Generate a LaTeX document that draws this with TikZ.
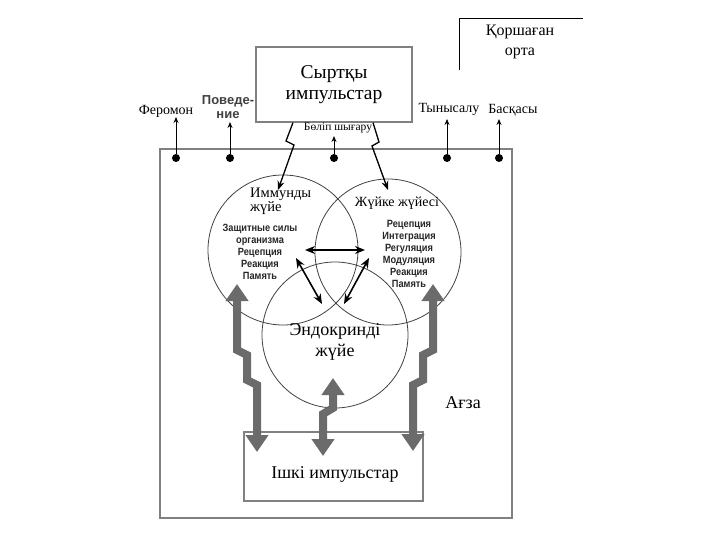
\documentclass[tikz,border=0pt]{standalone}
\usepackage{fontspec}
\setmainfont{Liberation Serif}
\newfontfamily\labsans{Liberation Sans}
\newfontfamily\listsans[FakeStretch=0.88]{Liberation Sans}
\usetikzlibrary{arrows.meta}
\begin{document}
\begin{tikzpicture}[x=1pt,y=-1pt,
  serif/.style={inner sep=0pt, align=center, text=black},
  big/.style={serif, font=\fontsize{18}{21}\selectfont},
  mid/.style={serif, font=\fontsize{14}{17}\selectfont},
  sml/.style={serif, font=\fontsize{11.5}{13}\selectfont},
  listtxt/.style={inner sep=0pt, align=center, font=\listsans\bfseries\fontsize{10.5}{12}\selectfont, text=black!85},
  sys/.style={circle, draw=black!75, line width=0.8pt, minimum size=#1, inner sep=0pt},
  dot/.style={circle, fill=black, minimum size=8pt, inner sep=0pt},
  thinarr/.style={-{Stealth[length=6pt,width=5pt]}, line width=0.9pt},
  bolt/.style={-{Stealth[length=9pt,width=7pt]}, line width=1.3pt},
  dbl/.style={{Stealth[length=10pt,width=8pt]}-{Stealth[length=10pt,width=8pt]}, line width=1.6pt},
  grayarr/.style={draw=black!58, line width=8pt, {Triangle[width=22pt,length=17pt]}-{Triangle[width=22pt,length=17pt]}},
  frame/.style={draw=black!50, line width=1.2pt, inner sep=0pt}
]
\useasboundingbox (0,0) rectangle (720,540);

% outer body box
\node[frame, minimum width=352pt, minimum height=369pt] (body) at (336,333.5) {};
\node[big] (agza) at (463,403) {Ағза};

% environment
\node[serif, font=\fontsize{16}{20}\selectfont] (env) at (520,42) {Қоршаған\\орта};
\coordinate (envA) at (459,70);
\coordinate (envB) at (459,18);
\coordinate (envC) at (583,18);
\draw[line width=0.8pt] (envA) -- (envB) -- (envC);

% external impulses box
\node[frame, fill=white, minimum width=156pt, minimum height=75pt, serif, font=\fontsize{19.5}{21}\selectfont] (ext) at (334,84.5) {Сыртқы\\импульстар};

% top labels
\node[mid] (fer) at (166,111) {Феромон};
\node[inner sep=0pt, align=center, font=\labsans\bfseries\fontsize{13}{14}\selectfont, text=black!75] (beh) at (228,107) {Поведе-\\ние};
\node[sml] (sec) at (338,128) {Бөліп шығару};
\node[mid] (resp) at (449,109) {Тынысалу};
\node[mid] (oth) at (513,110) {Басқасы};

% dots
\node[dot] (d1) at (176,158) {};
\node[dot] (d2) at (230,158) {};
\node[dot] (d3) at (334,158) {};
\node[dot] (d4) at (447,158) {};
\node[dot] (d5) at (499,158) {};
\coordinate (t1) at (176,117);
\coordinate (t2) at (230,122);
\coordinate (t3) at (334,136);
\coordinate (t4) at (447,119);
\coordinate (t5) at (499,119);
\draw[thinarr] (d1) -- (t1);
\draw[thinarr] (d2) -- (t2);
\draw[thinarr] (d3) -- (t3);
\draw[thinarr] (d4) -- (t4);
\draw[thinarr] (d5) -- (t5);

% systems
\node[sys=150pt] (imm) at (283,250) {};
\node[sys=146pt] (ner) at (388,252) {};
\node[sys=146pt] (endo) at (335,335) {};

\node[serif, align=left, anchor=west, font=\fontsize{14.5}{14}\selectfont] (immT) at (250,201) {Иммунды\\жүйе};
\node[listtxt] (immL) at (260,252) {Защитные силы\\организма\\Рецепция\\Реакция\\Память};
\node[mid] (nerT) at (397,203) {Жүйке жүйесі};
\node[listtxt] (nerL) at (409,254) {Рецепция\\Интеграция\\Регуляция\\Модуляция\\Реакция\\Память};
\node[big] (endoT) at (335,342) {Эндокринді\\жүйе};

% lightning arrows from external impulses
\coordinate (l1) at (286,141);
\coordinate (l2) at (294,145);
\coordinate (le) at (278,190);
\coordinate (r1) at (379,142);
\coordinate (r2) at (372,146);
\coordinate (re) at (388,190);
\draw[bolt] ([xshift=-41pt]ext.south) -- (l1) -- (l2) -- (le);
\draw[bolt] ([xshift=39pt]ext.south) -- (r1) -- (r2) -- (re);

% interactions
\coordinate (h1) at (305,250);
\coordinate (h2) at (365,250);
\draw[dbl] (h1) -- (h2);
\coordinate (c1) at (296,258);
\coordinate (c2) at (322,304);
\coordinate (c3) at (369,258);
\coordinate (c4) at (344,304);
\draw[dbl] (c1) -- (c2);
\draw[dbl] (c3) -- (c4);

% internal impulses box
\node[frame, minimum width=179pt, minimum height=69pt] (int) at (333.5,466.5) {};
\node[big] (intT) at (335,474) {Ішкі импульстар};

% big gray arrows
\coordinate (ga1) at (237,284);
\coordinate (ga2) at (237,350);
\coordinate (ga3) at (247,355);
\coordinate (ga4) at (247,380);
\coordinate (ga5) at (257,385);
\coordinate (ga6) at (257,452);
\draw[grayarr] (ga1) -- (ga2) -- (ga3) -- (ga4) -- (ga5) -- (ga6);

\coordinate (gb1) at (433,284);
\coordinate (gb2) at (433,350);
\coordinate (gb3) at (423,355);
\coordinate (gb4) at (423,380);
\coordinate (gb5) at (413,385);
\coordinate (gb6) at (413,451);
\draw[grayarr] (gb1) -- (gb2) -- (gb3) -- (gb4) -- (gb5) -- (gb6);

\coordinate (gc1) at (333,378);
\coordinate (gc2) at (333,408);
\coordinate (gc3) at (323,414);
\coordinate (gc4) at (323,456);
\draw[grayarr] (gc1) -- (gc2) -- (gc3) -- (gc4);
\end{tikzpicture}
\end{document}
